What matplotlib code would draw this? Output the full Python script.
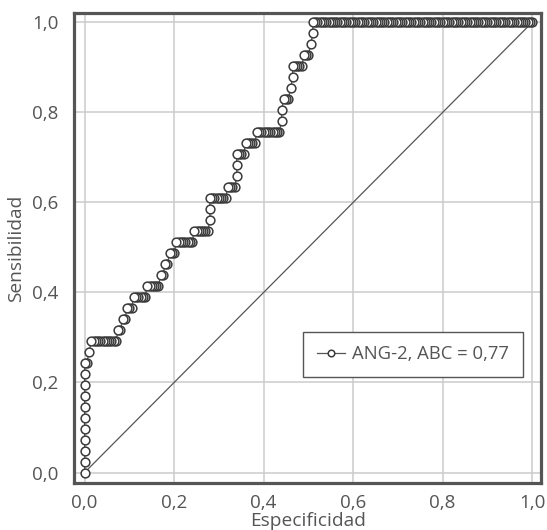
import numpy as np
import matplotlib.pyplot as plt
from matplotlib.ticker import FuncFormatter

# ROC data: for every sensitivity level (tp count out of
# n_pos) the false-positive count where that level starts (out of n_neg)
n_pos = 41
n_neg = 200
level_start = [0, 0, 0, 0, 0, 0, 0, 0, 0, 0,
               0, 2, 3, 15, 17, 19, 22, 28, 34, 36,
               38, 41, 49, 56, 56, 56, 64, 68, 68, 68,
               72, 77, 88, 88, 89, 92, 93, 93, 98, 101,
               102, 102]
ticks = [0.0, 0.2, 0.4, 0.6, 0.8, 1.0]
label = 'ANG-2, ABC = 0,77'

GREY = '#555555'


def roc_points():
    xs, ys = [], []
    last = len(level_start) - 1
    for k, start in enumerate(level_start):
        end = level_start[k + 1] if k < last else n_neg + 1
        for c in range(start, max(end, start + 1)):
            xs.append(c / n_neg)
            ys.append(k / n_pos)
    return np.array(xs), np.array(ys)


def main():
    plt.rcParams['font.family'] = ['Open Sans', 'DejaVu Sans']
    fig = plt.figure(figsize=(5.47, 5.30), dpi=100)
    ax = fig.add_axes([0.1353, 0.0887, 0.854, 0.887])

    xs, ys = roc_points()

    ax.plot([0, 1], [0, 1], color=GREY, lw=0.9, zorder=2)
    # drawn from (1,1) back to (0,0) so the left marker of each run sits on top
    ax.plot(xs[::-1], ys[::-1], '-o', color=GREY, lw=0.9, ms=6.3,
            mfc='white', mec='#3a3a3a', mew=1.1, label=label, zorder=3)

    ax.set_xlim(-0.0237, 1.02)
    ax.set_ylim(-0.0233, 1.021)
    ax.set_xticks(ticks)
    ax.set_yticks(ticks)
    fmt = FuncFormatter(lambda v, p: f'{v:.1f}'.replace('.', ','))
    ax.xaxis.set_major_formatter(fmt)
    ax.yaxis.set_major_formatter(fmt)
    ax.tick_params(length=0, labelsize=13.5, labelcolor=GREY)
    ax.tick_params(axis='y', pad=11)
    ax.tick_params(axis='x', pad=8)
    ax.grid(True, color='#cccccc', lw=1.1)
    ax.set_axisbelow(True)
    for s in ax.spines.values():
        s.set_color(GREY)
        s.set_linewidth(2.3)

    ax.set_xlabel('Especificidad', fontsize=13.8, color=GREY, labelpad=0)
    ax.set_ylabel('Sensibilidad', fontsize=13.8, color=GREY, labelpad=5)

    leg = ax.legend(loc='lower right', bbox_to_anchor=(0.961, 0.225),
                    borderaxespad=0, fancybox=False, framealpha=1,
                    fontsize=13.3, handlelength=1.5, handletextpad=0.4,
                    borderpad=0.75, markerscale=0.75, labelcolor=GREY)
    leg.get_frame().set_edgecolor(GREY)
    leg.get_frame().set_linewidth(1.0)

    fig.savefig('out.png', dpi=100)


if __name__ == '__main__':
    main()
